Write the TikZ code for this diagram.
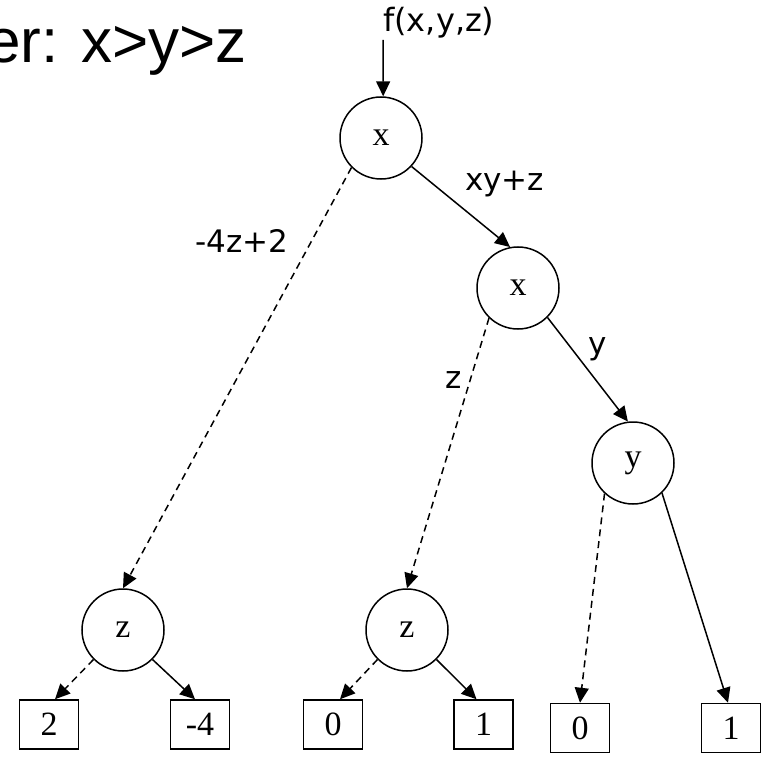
\documentclass[tikz,border=0pt]{standalone}
\usepackage{fontspec}
\setmainfont{Liberation Serif}
\newfontfamily\lblfont{DejaVu Sans}
\newfontfamily\ttlfont{Liberation Sans}
\usetikzlibrary{arrows.meta}
\begin{document}
\begin{tikzpicture}[x=1pt,y=-1pt,
  every node/.style={inner sep=0pt},
  vnode/.style={circle,draw,line width=1.5pt,minimum size=82pt,font=\fontsize{34}{40}\selectfont},
  leaf/.style={rectangle,draw,line width=1.5pt,minimum width=59pt,minimum height=49pt,font=\fontsize{34}{40}\selectfont},
  hi/.style={line width=1.5pt,-{Triangle[length=15pt,width=14pt]}},
  lo/.style={hi,dash pattern=on 7pt off 5pt},
  elbl/.style={anchor=base west,font=\lblfont\fontsize{31}{36}\selectfont}]
\useasboundingbox (0,0) rectangle (769,757);
\node[anchor=base east,font=\ttlfont\fontsize{62}{70}\selectfont] (title) at (247,63) {er: x>y>z};
\node[elbl,font=\lblfont\fontsize{32}{36}\selectfont] (f) at (383,31.7) {f(x,y,z)};
\coordinate (fs) at (383,40);
\node[vnode] (x1) at (381,138) {x};
\node[vnode] (x2) at (518,288) {x};
\node[vnode] (y) at (633,463) {y};
\node[vnode] (z1) at (123,630) {z};
\node[vnode] (z2) at (407,630) {z};
\node[leaf] (b2) at (49,724.5) {2};
\node[leaf] (bm4) at (200,724.5) {-4};
\node[leaf] (b0a) at (333,724.5) {0};
\node[leaf] (b1a) at (483.5,724.5) {1};
\node[leaf] (b0b) at (580,728) {0};
\node[leaf] (b1b) at (731,728) {1};
\draw[hi] (fs) -- (x1.87);
\draw[hi] (x1.-43) -- (x2.101);
\draw[lo] (x1.225) -- (z1.north);
\draw[lo] (x2.226) -- (z2.north);
\draw[hi] (x2.-45) -- (y.97);
\draw[lo] (y.227) -- (b0b.north);
\draw[hi] (y.-46) -- ([xshift=-3pt]b1b.north);
\draw[lo] (z1.225) -- ([xshift=6pt]b2.north);
\draw[hi] (z1.-45) -- ([xshift=-5pt]bm4.north);
\draw[lo] (z2.225) -- ([xshift=7pt]b0a.north);
\draw[hi] (z2.-45) -- ([xshift=-7pt]b1a.north);
\node[elbl] (l1) at (465,190) {xy+z};
\node[elbl] (l2) at (195,252.7) {-4z+2};
\node[elbl] (l3) at (445,388) {z};
\node[elbl] (l4) at (588,354) {y};
\end{tikzpicture}
\end{document}
